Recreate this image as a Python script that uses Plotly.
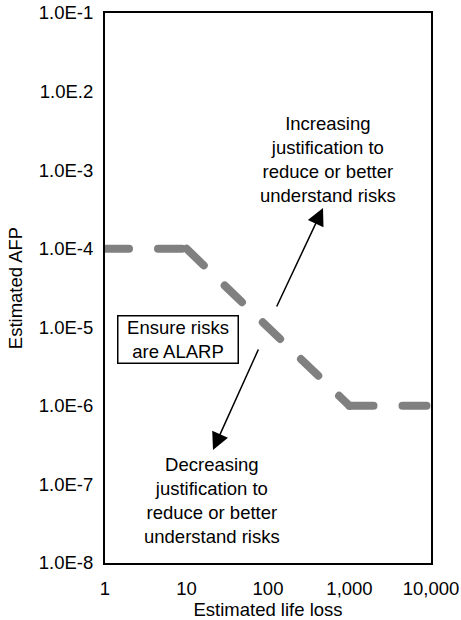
import plotly.graph_objects as go

# Data
life_loss = [1, 10, 1000, 10000]
afp_limit = [1e-4, 1e-4, 1e-6, 1e-6]
y_tickvals = [1e-8, 1e-7, 1e-6, 1e-5, 1e-4, 1e-3, 1e-2, 1e-1]
y_ticktext = ["1.0E-8", "1.0E-7", "1.0E-6", "1.0E-5", "1.0E-4", "1.0E-3", "1.0E.2", "1.0E-1"]
x_tickvals = [1, 10, 100, 1000, 10000]
x_ticktext = ["1", "10", "100", "1,000", "10,000"]

FONT = "Liberation Sans, Arial, sans-serif"
FS = 18.5
fig = go.Figure()

# draw the limit line segment by segment (dash pattern restarts at each vertex)
for i in range(len(life_loss) - 1):
    fig.add_trace(go.Scatter(
        x=life_loss[i:i + 2], y=afp_limit[i:i + 2], mode="lines",
        line=dict(color="#808080", width=8, dash="24px,29px"),
        showlegend=False, hoverinfo="skip"))

# arrows (log10 coordinates on log axes)
fig.add_annotation(x=2.675, y=-3.482, ax=2.098, ay=-4.755, xref="x", yref="y",
                   axref="x", ayref="y", text="", showarrow=True,
                   arrowhead=2, arrowsize=2.3, arrowwidth=1.5, arrowcolor="black")
fig.add_annotation(x=1.325, y=-6.562, ax=1.890, ay=-5.264, xref="x", yref="y",
                   axref="x", ayref="y", text="", showarrow=True,
                   arrowhead=2, arrowsize=2.3, arrowwidth=1.5, arrowcolor="black")

fig.add_annotation(x=0.684, y=0.7345, xref="paper", yref="paper",
                   text="Increasing<br>justification to<br>reduce or better<br>understand risks",
                   showarrow=False, font=dict(family=FONT, size=FS, color="black"),
                   align="center", xanchor="center", yanchor="middle")
fig.add_annotation(x=0.328, y=0.1145, xref="paper", yref="paper",
                   text="Decreasing<br>justification to<br>reduce or better<br>understand risks",
                   showarrow=False, font=dict(family=FONT, size=FS, color="black"),
                   align="center", xanchor="center", yanchor="middle")
fig.add_annotation(x=0.224, y=0.4055, xref="paper", yref="paper",
                   text="Ensure risks<br>are ALARP", showarrow=False,
                   font=dict(family=FONT, size=FS, color="black"),
                   align="center", xanchor="center", yanchor="middle",
                   bordercolor="black", borderwidth=1.5, borderpad=1,
                   bgcolor="white", width=117, height=44)

fig.update_layout(
    width=461, height=620,
    margin=dict(l=105, r=30, t=13, b=57, autoexpand=False),
    paper_bgcolor="white", plot_bgcolor="white",
    font=dict(family=FONT, size=FS, color="black"),
    xaxis=dict(type="log", range=[0, 4], tickvals=x_tickvals, ticktext=x_ticktext,
               showgrid=False, zeroline=False, showline=True, mirror=True,
               linecolor="black", linewidth=2, ticks="", ticklabelstandoff=8,
               automargin=False,
               title=dict(text="Estimated life loss", standoff=13,
                          font=dict(family=FONT, size=FS))),
    yaxis=dict(type="log", range=[-8, -1], tickvals=y_tickvals, ticktext=y_ticktext,
               showgrid=False, zeroline=False, showline=True, mirror=True,
               linecolor="black", linewidth=2, ticks="", ticklabelstandoff=6,
               automargin=False,
               title=dict(text="Estimated AFP", standoff=11,
                          font=dict(family=FONT, size=FS))),
)

fig.write_html("out.html", config={"displayModeBar": False}, post_script=(
    "document.body.style.margin='0';document.body.style.overflow='hidden';"
    "document.querySelectorAll('.scatterlayer path.js-line').forEach("
    "function(p){p.style.strokeLinecap='round';});"))
